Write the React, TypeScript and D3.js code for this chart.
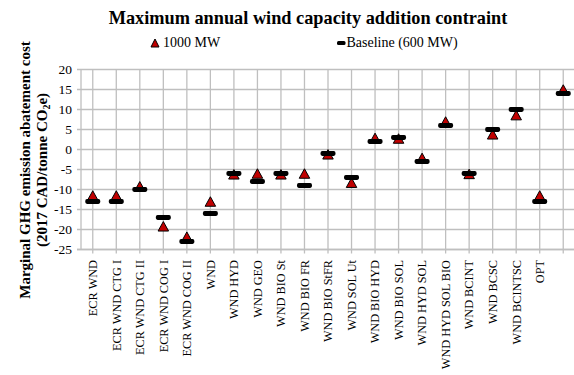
import React from "react";
import * as d3 from "d3";

const categories = [
  "ECR WND", "ECR WND CTG I", "ECR WND CTG II", "ECR WND COG I", "ECR WND COG II",
  "WND", "WND HYD", "WND GEO", "WND BIO St", "WND BIO FR", "WND BIO StFR",
  "WND SOL  Ut", "WND BIO HYD", "WND BIO SOL", "WND HYD SOL", "WND HYD SOL BIO",
  "WND BCINT", "WND BCSC", "WND BCINTSC", "OPT", "",
];
const series1000 = [-11.5, -11.5, -9.2, -19.2, -21.8, -13, -6.2, -6, -6.2, -6, -1.2, -8.3, 2.9, 2.75, -2.1, 7, -6.1, 3.8, 8.6, -11.5, 15];
const seriesBaseline = [-13, -13, -10, -17, -23, -16, -6, -8, -6, -9, -1, -7, 2, 3, -3, 6, -6, 5, 10, -13, 14];
const yTicks = [20, 15, 10, 5, 0, -5, -10, -15, -20, -25];
const seriesNames = ["1000 MW", "Baseline (600 MW)"];

const FONT = "'Liberation Serif', 'Times New Roman', serif";
const GRID = "#BFBFBF";
const RED = "#C00000";

export default function App() {
  const W = 574, H = 375;
  const x = d3.scaleBand<number>().domain(d3.range(categories.length)).range([81, 575]).padding(0);
  const y = d3.scaleLinear().domain([-25, 20]).range([249.5, 69.5]);
  const cx = (i: number) => (x(i) as number) + x.bandwidth() / 2;
  const tri = (px: number, py: number, w: number, h: number) =>
    `M${px},${py - h / 2}L${px + w / 2},${py + h / 2}L${px - w / 2},${py + h / 2}Z`;

  return (
    <svg width={W} height={H} style={{ position: "absolute", left: 0, top: 0, background: "#fff" }} fontFamily={FONT}>
      <rect width={W} height={H} fill="#fff" />
      {yTicks.map((t) => (
        <g key={"h" + t}>
          <line x1={77} x2={575} y1={y(t)} y2={y(t)} stroke={GRID} strokeWidth={1.3} />
          <text x={72} y={y(t)} dy="0.35em" textAnchor="end" fontSize={13.5} fill="#000">{t}</text>
        </g>
      ))}
      {categories.map((c, i) => (
        <line key={"v" + i} x1={cx(i)} x2={cx(i)} y1={y(20)} y2={y(-25) + 4} stroke={GRID} strokeWidth={1.3} />
      ))}
      <line x1={81} x2={81} y1={y(20)} y2={y(-25)} stroke={GRID} strokeWidth={1.3} />
      <line x1={77} x2={575} y1={y(-25)} y2={y(-25)} stroke={GRID} strokeWidth={1.3} />
      {categories.map((c, i) => (
        <text key={"xl" + i} transform={`translate(${cx(i)},${260}) rotate(-90)`} textAnchor="end" dy="0.35em" fontSize={12.3} fill="#000">
          {c}
        </text>
      ))}
      {series1000.map((v, i) => (
        <path key={"t" + i} d={tri(cx(i), y(v), 10.5, 9.5)} fill={RED} stroke="#000" strokeWidth={1} />
      ))}
      {seriesBaseline.map((v, i) => (
        <rect key={"d" + i} x={cx(i) - 7.5} y={y(v) - 2.4} width={15} height={4.8} rx={1.8} fill="#000" />
      ))}
      <text x={308} y={24} textAnchor="middle" fontSize={18.3} fontWeight="bold" fill="#000">
        Maximum annual wind capacity addition contraint
      </text>
      <path d={tri(155, 43, 8, 8)} fill={RED} stroke="#000" strokeWidth={1} />
      <text x={163} y={47} fontSize={14} fill="#000">{seriesNames[0]}</text>
      <rect x={337} y={41} width={8.5} height={4} rx={1.5} fill="#000" />
      <text x={346.5} y={47} fontSize={14} fill="#000">{seriesNames[1]}</text>
      <g transform="translate(0,170) rotate(-90)">
        <text x={0} y={30} textAnchor="middle" fontSize={15} fontWeight="bold" fill="#000">
          Marginal GHG emission abatement cost
        </text>
        <text x={0} y={47} textAnchor="middle" fontSize={15} fontWeight="bold" fill="#000">
          (2017 CAD/tonne CO<tspan fontSize={10} dy={3}>2</tspan><tspan dy={-3}>e)</tspan>
        </text>
      </g>
    </svg>
  );
}
